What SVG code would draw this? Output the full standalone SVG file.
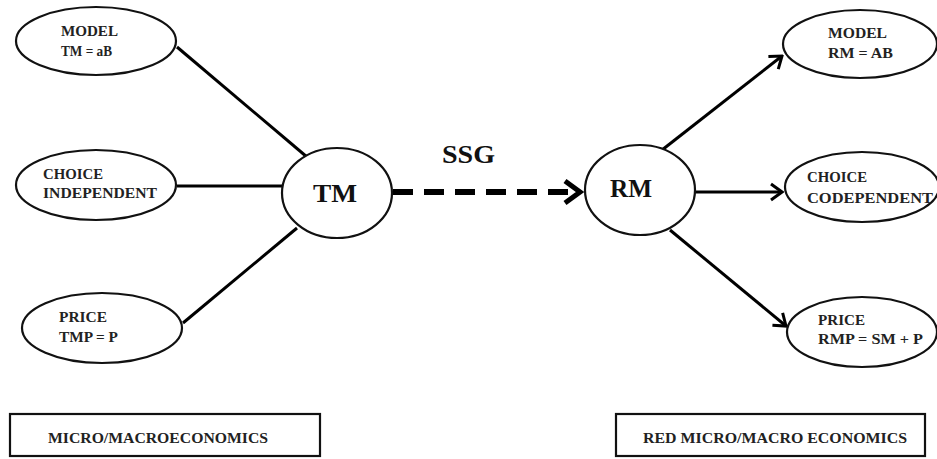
<svg xmlns="http://www.w3.org/2000/svg" width="937" height="459" viewBox="0 0 937 459">
<style>
.n{fill:#fff;stroke:#111;stroke-width:2.2}
.c{stroke:#000;stroke-width:3;fill:none}
</style>
<defs>
<marker id="ah" markerUnits="userSpaceOnUse" viewBox="-14 -10 16 20" refX="0" refY="0" markerWidth="16" markerHeight="20" orient="auto">
<path d="M-11,-8 L0,0 L-11,8" fill="none" stroke="#000" stroke-width="3"/>
</marker>
<marker id="ahb" markerUnits="userSpaceOnUse" viewBox="-20 -14 24 28" refX="0" refY="0" markerWidth="24" markerHeight="28" orient="auto">
<path d="M-15,-11 L0,0 L-15,11" fill="none" stroke="#000" stroke-width="5"/>
</marker>
</defs>
<rect width="937" height="459" fill="#fff"/>
<g id="connectors">
<line class="c" x1="177" y1="47" x2="307" y2="157"/>
<line class="c" x1="177" y1="186" x2="282" y2="186"/>
<line class="c" x1="183" y1="323" x2="297" y2="228"/>
<line x1="393" y1="192" x2="580" y2="192" stroke="#000" stroke-width="6" stroke-dasharray="20 11" marker-end="url(#ahb)"/>
<line class="c" x1="662" y1="150" x2="782" y2="56" marker-end="url(#ah)"/>
<line class="c" x1="695" y1="192" x2="782" y2="192" marker-end="url(#ah)"/>
<line class="c" x1="670" y1="230" x2="786" y2="326" marker-end="url(#ah)"/>
</g>
<g font-family="'Liberation Serif', 'Times New Roman', serif" font-weight="bold" fill="#222" font-size="15">
<g id="tm-model">
<ellipse class="n" cx="96" cy="41" rx="80" ry="34"/>
<text x="61" y="36" textLength="57" lengthAdjust="spacingAndGlyphs">MODEL</text>
<text x="61" y="56" textLength="51" lengthAdjust="spacingAndGlyphs">TM = aB</text>
</g>
<g id="tm-choice">
<ellipse class="n" cx="96" cy="185" rx="80" ry="35"/>
<text x="43" y="179" textLength="60" lengthAdjust="spacingAndGlyphs">CHOICE</text>
<text x="43" y="198" textLength="114" lengthAdjust="spacingAndGlyphs">INDEPENDENT</text>
</g>
<g id="tm-price">
<ellipse class="n" cx="102" cy="328" rx="80" ry="35"/>
<text x="59" y="322" textLength="48" lengthAdjust="spacingAndGlyphs">PRICE</text>
<text x="59" y="342" textLength="59" lengthAdjust="spacingAndGlyphs">TMP = P</text>
</g>
<g id="tm">
<ellipse class="n" cx="337" cy="193" rx="55" ry="45"/>
<text x="313" y="202" font-size="26" fill="#111" textLength="44" lengthAdjust="spacingAndGlyphs">TM</text>
</g>
<g id="ssg-label">
<text x="442" y="163" font-size="26" fill="#111" textLength="53" lengthAdjust="spacingAndGlyphs">SSG</text>
</g>
<g id="rm">
<ellipse class="n" cx="640" cy="190" rx="55" ry="45"/>
<text x="610" y="197" font-size="26" fill="#111" textLength="42" lengthAdjust="spacingAndGlyphs">RM</text>
</g>
<g id="rm-model">
<ellipse class="n" cx="860" cy="44" rx="77" ry="34"/>
<text x="828" y="38" textLength="59" lengthAdjust="spacingAndGlyphs">MODEL</text>
<text x="828" y="58" textLength="65" lengthAdjust="spacingAndGlyphs">RM = AB</text>
</g>
<g id="rm-choice">
<ellipse class="n" cx="862" cy="187" rx="77" ry="35"/>
<text x="807" y="182" textLength="60" lengthAdjust="spacingAndGlyphs">CHOICE</text>
<text x="807" y="203" textLength="126" lengthAdjust="spacingAndGlyphs">CODEPENDENT</text>
</g>
<g id="rm-price">
<ellipse class="n" cx="862" cy="332" rx="75" ry="35"/>
<text x="818" y="325" textLength="47" lengthAdjust="spacingAndGlyphs">PRICE</text>
<text x="818" y="344" textLength="105" lengthAdjust="spacingAndGlyphs">RMP = SM + P</text>
</g>
<g id="micro-box">
<rect x="10" y="414" width="310" height="42" fill="#fff" stroke="#111" stroke-width="2.2"/>
<text x="48" y="443" textLength="220" lengthAdjust="spacingAndGlyphs">MICRO/MACROECONOMICS</text>
</g>
<g id="red-box">
<rect x="616" y="414" width="309" height="42" fill="#fff" stroke="#111" stroke-width="2.2"/>
<text x="643" y="443" textLength="264" lengthAdjust="spacingAndGlyphs">RED MICRO/MACRO ECONOMICS</text>
</g>
</g>
</svg>
